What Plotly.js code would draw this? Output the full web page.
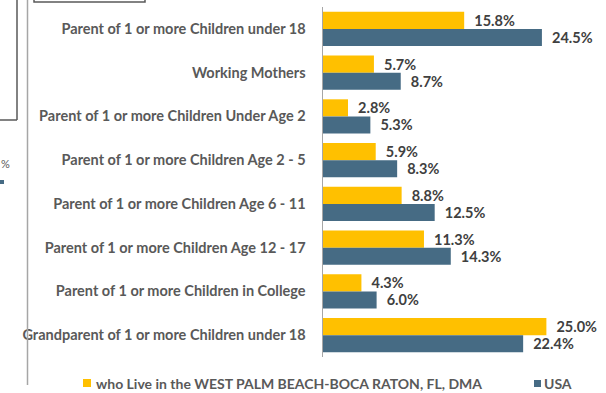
<!DOCTYPE html>
<html>
<head>
<meta charset="utf-8">
<script src="https://cdn.plot.ly/plotly-3.0.1.min.js"></script>
<style>
html,body{margin:0;padding:0;background:#fff;}
#chart{width:606px;height:393px;}
</style>
</head>
<body>
<div id="chart"></div>
<script>
const categories = [
  "Parent of 1 or more Children under 18",
  "Working Mothers",
  "Parent of 1 or more Children Under Age 2",
  "Parent of 1 or more Children Age 2 - 5",
  "Parent of 1 or more Children Age 6 - 11",
  "Parent of 1 or more Children Age 12 - 17",
  "Parent of 1 or more Children in College",
  "Grandparent of 1 or more Children under 18"
];
const westPalmValues = [15.8, 5.7, 2.8, 5.9, 8.8, 11.3, 4.3, 25.0];
const usaValues = [24.5, 8.7, 5.3, 8.3, 12.5, 14.3, 6.0, 22.4];
const seriesNames = ["who Live in the WEST PALM BEACH-BOCA RATON, FL, DMA", "USA"];
const seriesColors = ["#FFC000", "#466B84"];

const W = 606, H = 393;
const M = {l: 323, r: 6, t: 7, b: 36};
const pw = W - M.l - M.r, ph = H - M.t - M.b;
const px2x = p => (p - M.l) / pw;
const py2y = p => (H - M.b - p) / ph;

const FONT = "Lato, 'Open Sans', sans-serif";
const NB = "\u00a0\u00a0";

function barTrace(name, vals, color) {
  return {
    type: "bar", orientation: "h", name: name,
    y: categories, x: vals,
    marker: {color: color, line: {width: 0}},
    text: vals.map(v => NB + v.toFixed(1) + "%"),
    texttemplate: "%{text}",
    textposition: "outside",
    cliponaxis: false,
    constraintext: "none",
    textfont: {family: FONT, size: 14.5, color: "#404040", weight: "bold"},
    hoverinfo: "skip"
  };
}

const data = [
  barTrace(seriesNames[0], westPalmValues, seriesColors[0]),
  barTrace(seriesNames[1], usaValues, seriesColors[1])
];

const legendY = py2y(383);
const annotations = [
  {xref: "paper", yref: "paper", x: px2x(94), y: legendY, xanchor: "left", yanchor: "middle",
   text: seriesNames[0], showarrow: false, font: {family: FONT, size: 14, color: "#595959", weight: "bold"}},
  {xref: "paper", yref: "paper", x: px2x(542), y: legendY, xanchor: "left", yanchor: "middle",
   text: seriesNames[1], showarrow: false, font: {family: FONT, size: 14, color: "#595959", weight: "bold"}},
  {xref: "paper", yref: "paper", x: px2x(0), y: py2y(163), xanchor: "left", yanchor: "middle",
   text: "%", showarrow: false, borderpad: 0, font: {family: FONT, size: 11, color: "#595959"}}
];

const shapes = [
  // legend swatches
  {type: "rect", xref: "paper", yref: "paper", x0: px2x(83), x1: px2x(91), y0: py2y(387), y1: py2y(379),
   fillcolor: seriesColors[0], line: {width: 0}},
  {type: "rect", xref: "paper", yref: "paper", x0: px2x(534), x1: px2x(541), y0: py2y(387), y1: py2y(380),
   fillcolor: seriesColors[1], line: {width: 0}},
  // fragments of neighbouring content
  {type: "line", xref: "paper", yref: "paper", x0: px2x(27.5), x1: px2x(27.5), y0: py2y(0), y1: py2y(385),
   line: {color: "#A6A6A6", width: 1.5}},
  {type: "line", xref: "paper", yref: "paper", x0: px2x(17), x1: px2x(17), y0: py2y(-1), y1: py2y(120),
   line: {color: "#595959", width: 1.5}},
  {type: "line", xref: "paper", yref: "paper", x0: px2x(-1), x1: px2x(17), y0: py2y(120), y1: py2y(120),
   line: {color: "#595959", width: 1.5}},
  {type: "rect", xref: "paper", yref: "paper", x0: px2x(34), x1: px2x(145), y0: py2y(-5), y1: py2y(2),
   line: {color: "#595959", width: 1.5}, fillcolor: "rgba(0,0,0,0)"},
  {type: "rect", xref: "paper", yref: "paper", x0: px2x(-1), x1: px2x(4), y0: py2y(184), y1: py2y(180),
   fillcolor: seriesColors[1], line: {width: 0}}
];

const layout = {
  width: W, height: H,
  margin: M,
  paper_bgcolor: "#ffffff", plot_bgcolor: "#ffffff",
  barmode: "group", bargap: 0.22, bargroupgap: 0,
  showlegend: false,
  font: {family: FONT},
  xaxis: {range: [0, 31], visible: false, fixedrange: true},
  yaxis: {
    autorange: "reversed", showline: true, linecolor: "#A6A6A6", linewidth: 1.5,
    ticks: "", showgrid: false, zeroline: false, ticklabelstandoff: 13,
    tickfont: {family: FONT, size: 14.5, color: "#595959", weight: "bold"}, fixedrange: true
  },
  annotations: annotations,
  shapes: shapes
};

Plotly.newPlot("chart", data, layout, {displayModeBar: false, staticPlot: true});
</script>
</body>
</html>
